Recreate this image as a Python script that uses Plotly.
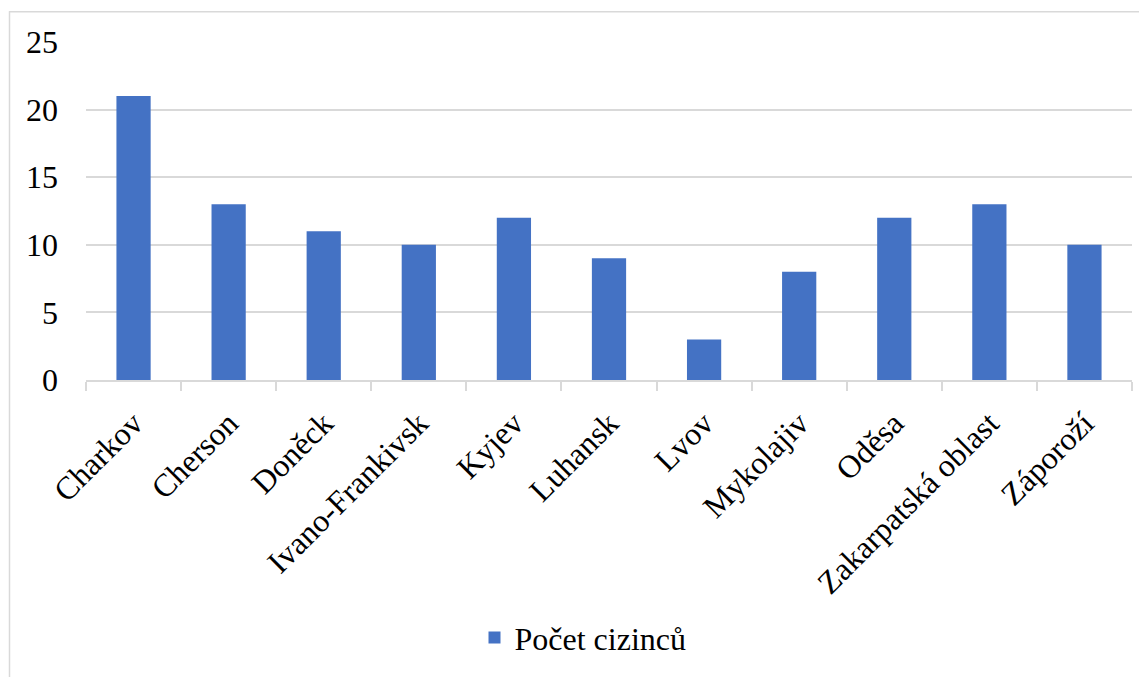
import plotly.graph_objects as go

categories = ["Charkov", "Cherson", "Doněck", "Ivano-Frankivsk", "Kyjev", "Luhansk",
              "Lvov", "Mykolajiv", "Oděsa", "Zakarpatská oblast", "Záporoží"]
values = [21, 13, 11, 10, 12, 9, 3, 8, 12, 13, 10]
series_name = "Počet cizinců"
y_ticks = [0, 5, 10, 15, 20, 25]

FONT = "Liberation Serif"
FS = 32
OFF = 8  # page body margin
W, H = 1147 - OFF, 677 - OFF
L, R, T, B = 86 - OFF, 15, 42 - OFF, 294
pw, ph = W - L - R, H - T - B

fig = go.Figure()
fig.add_trace(go.Bar(x=categories, y=values, name=series_name,
                     marker=dict(color="#4472C4", line=dict(width=0)),
                     showlegend=True))

def sx(px):  # screen px -> paper x
    return (px - OFF - L) / pw

def sy(py):  # screen px -> paper y
    return (H - B - (py - OFF)) / ph

shapes = [
    dict(type="line", xref="paper", yref="paper",
         x0=sx(9), x1=sx(1170), y0=sy(11.5), y1=sy(11.5),
         line=dict(color="#d9d9d9", width=1.5)),
    dict(type="line", xref="paper", yref="paper",
         x0=sx(9.5), x1=sx(9.5), y0=sy(11), y1=sy(720),
         line=dict(color="#d9d9d9", width=1.5)),
]

fig.update_layout(
    width=W, height=H,
    margin=dict(l=L, r=R, t=T, b=B),
    paper_bgcolor="white", plot_bgcolor="white",
    font=dict(family=FONT, size=FS, color="black"),
    bargap=0.64,
    xaxis=dict(showgrid=False, showline=True, linecolor="#d9d9d9", linewidth=1.5,
               ticks="outside", tickson="boundaries", ticklen=9, tickcolor="#d9d9d9",
               tickwidth=1.5, tickangle=-45, ticklabelstandoff=10,
               tickfont=dict(family=FONT, size=FS), fixedrange=True),
    yaxis=dict(range=[0, 25], tickvals=y_ticks, showgrid=True, gridcolor="#d9d9d9",
               gridwidth=1.5, zeroline=False, showline=False, ticks="",
               ticklabelstandoff=27,
               tickfont=dict(family=FONT, size=FS), fixedrange=True),
    legend=dict(orientation="h", x=sx(583), xanchor="center", y=sy(643),
                yanchor="middle", font=dict(family=FONT, size=FS),
                itemwidth=30, bgcolor="rgba(0,0,0,0)"),
    shapes=shapes,
)

fig.write_html("out.html")
